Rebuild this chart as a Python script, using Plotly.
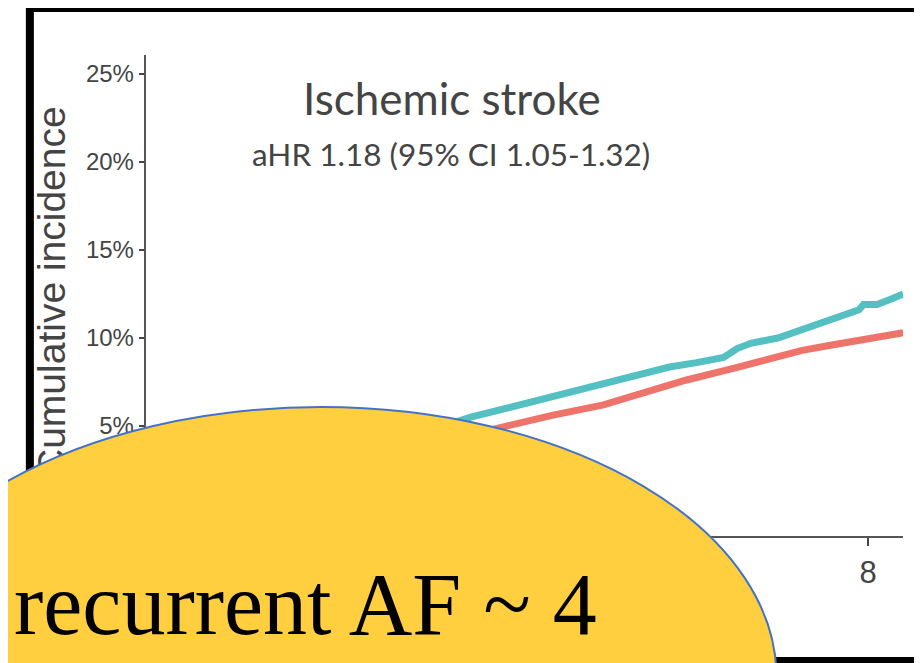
import plotly.graph_objects as go

# ---- data ----
years_teal = [0, 0.5, 1, 1.5, 2, 2.5, 3, 3.6, 4.0, 4.3, 4.7, 5.0, 5.4, 5.8, 6.1, 6.4,
              6.55, 6.7, 7.0, 7.27, 7.6, 7.9, 7.95, 8.1, 8.25, 8.39]
inc_teal = [0, 0.8, 1.6, 2.3, 3.0, 3.7, 4.5, 5.5, 6.0, 6.4, 6.9, 7.3, 7.8, 8.35, 8.6, 8.9,
            9.4, 9.7, 10.0, 10.45, 11.0, 11.6, 11.9, 11.9, 12.2, 12.5]
years_red = [0, 0.5, 1, 1.5, 2, 2.5, 3, 3.5, 3.94, 4.5, 5.07, 5.5, 5.98, 6.53, 7.0, 7.27,
             7.6, 8.0, 8.39]
inc_red = [0, 0.6, 1.2, 1.8, 2.4, 3.0, 3.7, 4.4, 4.95, 5.6, 6.2, 6.85, 7.6, 8.3, 8.9, 9.3,
           9.6, 10.0, 10.3]
y_ticks = [0, 5, 10, 15, 20, 25]
y_tick_labels = ["0%", "5%", "10%", "15%", "20%", "25%"]
x_ticks = [0, 2, 4, 6, 8]

title_text = "Ischemic stroke"
subtitle_text = "aHR 1.18 (95% CI 1.05-1.32)"
ylabel_text = "Cumulative incidence"
ylabel_pos = [12.3]   # vertical centre of the axis title, in y-axis units
overlay_text = "recurrent AF ~ 4"

W, H = 922, 663
OFF = 8  # page offset of the plot div (body margin)
def px(x):
    return (x - OFF) / W
def py(y):
    return (H - (y - OFF)) / H

YRANGE = [-1.25, 26.08]

fig = go.Figure()
fig.add_trace(go.Scatter(x=years_red, y=inc_red, mode="lines",
                         line=dict(color="#EE736B", width=7), showlegend=False))
fig.add_trace(go.Scatter(x=years_teal, y=inc_teal, mode="lines",
                         line=dict(color="#55C0C2", width=7), showlegend=False))
# empty helper trace so the title axis is drawn
fig.add_trace(go.Scatter(x=[None], y=[None], yaxis="y2", showlegend=False,
                         hoverinfo="skip"))

fig.update_layout(
    width=W, height=H,
    margin=dict(l=0, r=0, t=0, b=0),
    paper_bgcolor="white", plot_bgcolor="white",
    xaxis=dict(domain=[px(138), px(903)], range=[0, 8.39],
               tickvals=x_ticks, ticks="outside", ticklen=8, tickwidth=2,
               tickcolor="#444", showline=True, linecolor="#555", linewidth=2,
               showgrid=False, zeroline=False,
               tickfont=dict(family="Liberation Sans", size=31, color="#444")),
    yaxis=dict(domain=[py(536), py(55)], range=YRANGE,
               tickvals=y_ticks, ticktext=y_tick_labels, ticks="outside", ticklen=5,
               tickwidth=2, tickcolor="#444", showline=True, linecolor="#555",
               linewidth=2, showgrid=False, zeroline=False,
               tickfont=dict(family="Liberation Sans", size=24, color="#444")),
    # axis title drawn as a tick label so the yellow shape can cover it
    yaxis2=dict(overlaying="y", anchor="free", position=px(64), side="left",
                range=YRANGE, tickvals=ylabel_pos, ticktext=[ylabel_text],
                tickangle=-90, ticks="", showline=False, showgrid=False,
                zeroline=False,
                tickfont=dict(family="Liberation Sans", size=39, color="#444")),
)

# title texts
fig.add_annotation(x=px(447), y=py(98), xref="paper", yref="paper",
                   text=title_text, showarrow=False, xanchor="center", yanchor="middle",
                   font=dict(family="Lato", size=44, color="#444"))
fig.add_annotation(x=px(446), y=py(154), xref="paper", yref="paper",
                   text=subtitle_text, showarrow=False, xanchor="center", yanchor="middle",
                   font=dict(family="Lato", size=31.5, color="#444"))

# black frame
fig.add_shape(type="rect", xref="paper", yref="paper",
              x0=px(21), x1=1.05, y0=py(661), y1=py(8),
              line=dict(color="black", width=8), layer="above")
# yellow ellipse
fig.add_shape(type="circle", xref="paper", yref="paper",
              x0=px(315 - 460), x1=px(315 + 460), y0=py(677 + 270), y1=py(677 - 270),
              fillcolor="#FFCF40", line=dict(color="#4472C4", width=2), layer="above")
fig.add_annotation(x=px(3), y=py(604), xref="paper", yref="paper",
                   text=overlay_text, showarrow=False, xanchor="left", yanchor="middle",
                   font=dict(family="Liberation Serif", size=88, color="black"))

fig.write_html("out.html")
